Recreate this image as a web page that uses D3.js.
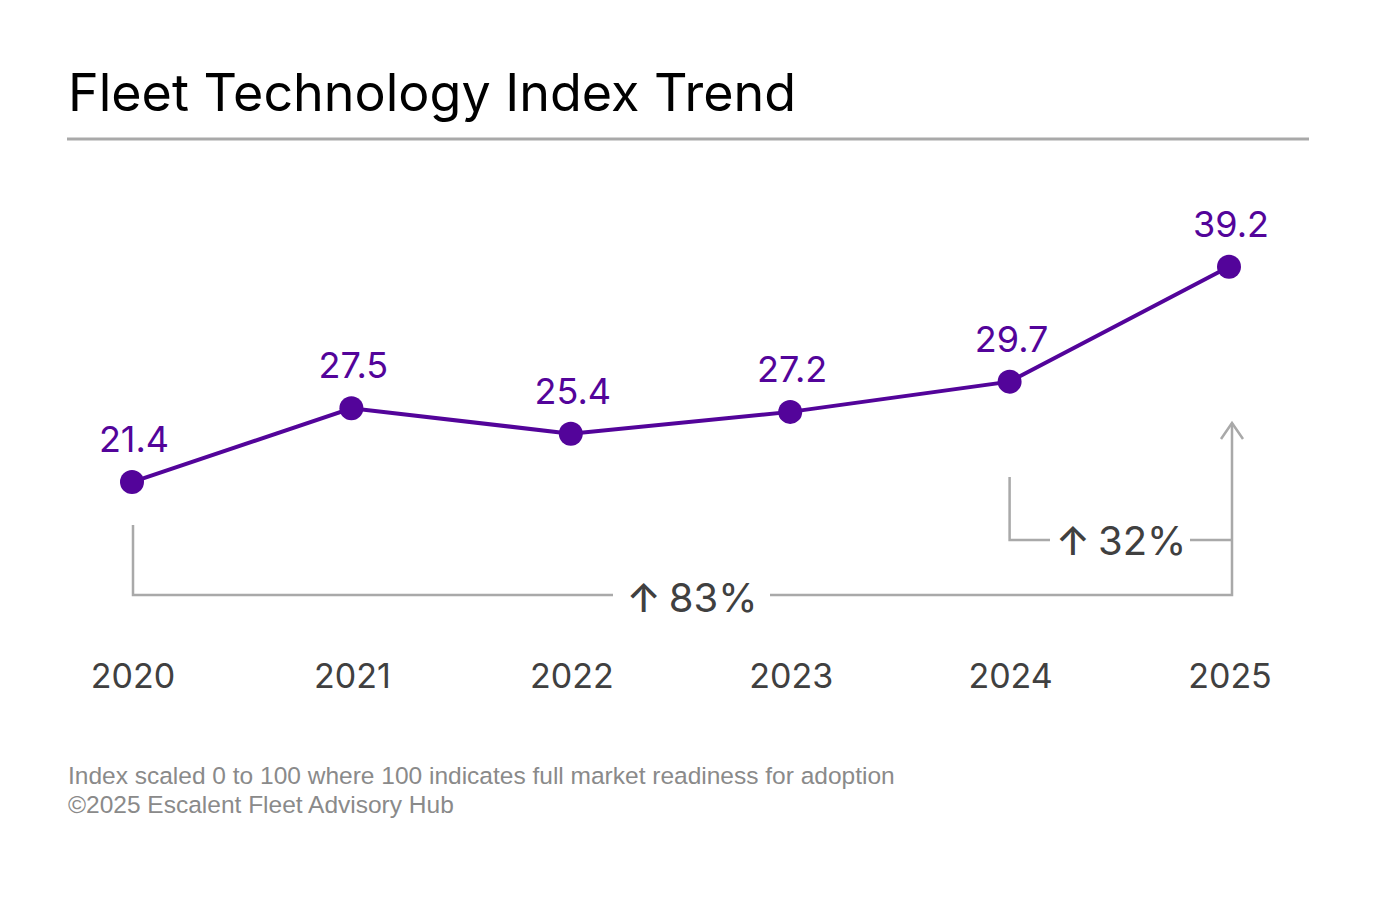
<!DOCTYPE html>
<html>
<head>
<meta charset="utf-8">
<script src="https://cdn.jsdelivr.net/npm/d3@7"></script>
<style>
  body { margin: 0; background: #fff; }
  text { font-family: Inter, "Noto Sans", sans-serif; }
</style>
</head>
<body>
<div id="chart"></div>
<script>
// Data
const years = ["2020", "2021", "2022", "2023", "2024", "2025"];
const indexValues = [21.4, 27.5, 25.4, 27.2, 29.7, 39.2];
const titleText = "Fleet Technology Index Trend";
const footnotes = [
  "Index scaled 0 to 100 where 100 indicates full market readiness for adoption",
  "\u00A92025 Escalent Fleet Advisory Hub"
];
// growth annotations
const growthLabels = ["83%", "32%"];

const W = 1378, H = 897;
const purple = "#53049a", grey = "#a9a9a9";

const svg = d3.select("#chart").append("svg")
  .attr("width", W)
  .attr("height", H);

// Title and rule
svg.append("text")
  .attr("x", 68).attr("y", 111)
  .style("font-size", "52px")
  .style("fill", "#000")
  .text(titleText);

svg.append("line")
  .attr("x1", 67).attr("x2", 1309)
  .attr("y1", 139).attr("y2", 139)
  .style("stroke", grey).style("stroke-width", 3);

// Scales
const x = d3.scalePoint()
  .domain(years)
  .range([132, 1229]);

const y = d3.scaleLinear()
  .domain([20, 40])
  .range([499, 257]);

// Year labels
svg.selectAll(".year")
  .data(years)
  .enter().append("text")
  .attr("class", "year")
  .attr("x", d => x(d) + 1)
  .attr("y", 688)
  .attr("text-anchor", "middle")
  .style("font-size", "34px")
  .style("fill", "#404040")
  .text(d => d);

// Growth brackets
const baseY83 = 595, baseY32 = 540;
const arrowX = x(years[5]) + 3;
const arrowTop = 422;

function bracket(d) {
  svg.append("path")
    .attr("d", d)
    .style("fill", "none").style("stroke", grey).style("stroke-width", 2.5);
}

// 83% bracket
bracket(`M${x(years[0]) + 1},525 V${baseY83} H613`);
bracket(`M770,${baseY83} H${arrowX} V${arrowTop + 1}`);
bracket(`M${arrowX - 11},${arrowTop + 17} L${arrowX},${arrowTop + 1} L${arrowX + 11},${arrowTop + 17}`);

// 32% bracket
bracket(`M${x(years[4])},477 V${baseY32} H1050`);
bracket(`M1190,${baseY32} H${arrowX}`);

function growthText(cx, by, label) {
  const t = svg.append("text")
    .attr("x", cx).attr("y", by)
    .attr("text-anchor", "middle")
    .style("font-size", "40px")
    .style("fill", "#404040");
  t.append("tspan").style("font-weight", 500).text("\u2191");
  t.append("tspan").attr("dx", 8).text(label);
}
growthText(692, 612, growthLabels[0]);
growthText(1121, 555, growthLabels[1]);

// Line
const line = d3.line()
  .x((d, i) => x(years[i]))
  .y(d => y(d));

svg.append("path")
  .datum(indexValues)
  .attr("d", line)
  .style("fill", "none")
  .style("stroke", purple)
  .style("stroke-width", 4);

// Points
svg.selectAll(".pt")
  .data(indexValues)
  .enter().append("circle")
  .attr("class", "pt")
  .attr("cx", (d, i) => x(years[i]))
  .attr("cy", d => y(d))
  .attr("r", 12)
  .style("fill", purple);

// Value labels
svg.selectAll(".val")
  .data(indexValues)
  .enter().append("text")
  .attr("class", "val")
  .attr("x", (d, i) => x(years[i]) + 2)
  .attr("y", d => y(d) - 30)
  .attr("text-anchor", "middle")
  .style("font-size", "36px")
  .style("fill", purple)
  .text(d => d.toFixed(1));

// Footnotes
svg.selectAll(".foot")
  .data(footnotes)
  .enter().append("text")
  .attr("class", "foot")
  .attr("x", 68)
  .attr("y", (d, i) => 784 + i * 29)
  .style("font-family", "'Liberation Sans', Arial, sans-serif")
  .style("font-size", "24.5px")
  .style("fill", "#8a8a8a")
  .text(d => d);
</script>
</body>
</html>
